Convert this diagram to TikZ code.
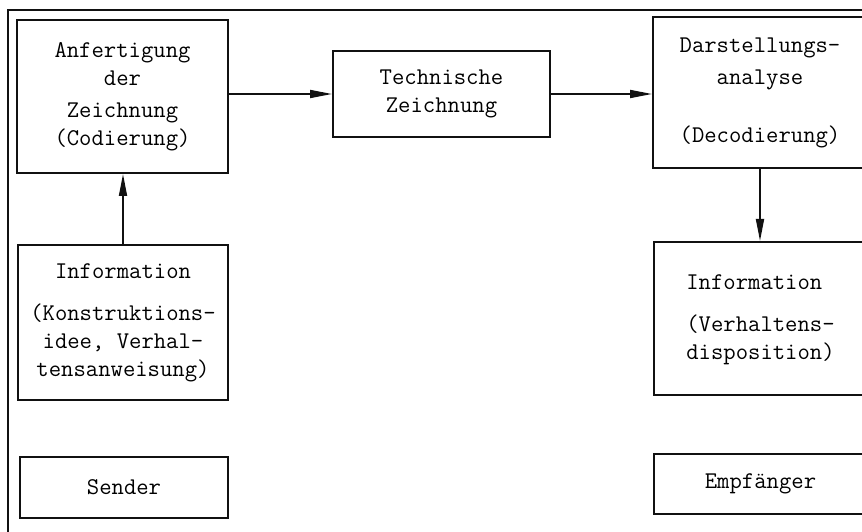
\documentclass[tikz,border=0pt]{standalone}
\usepackage{fontspec}
\usetikzlibrary{positioning,arrows.meta,calc}
\definecolor{ink}{HTML}{111111}

\tikzset{
  box/.style={draw=ink, line width=2pt, align=center, inner sep=0pt,
    font=\ttfamily\fontsize{24}{28}\selectfont},
  wide/.style={font=\ttfamily\fontsize{24}{28}\selectfont\addfontfeature{LetterSpace=9}},
  arr/.style={draw=ink, line width=1.8pt, -{Triangle[length=22pt,width=8pt]}}
}

\begin{document}
\begin{tikzpicture}[x=1pt,y=1pt]
\clip (0,0) rectangle (862,531);
% outer frame, only top and left show
\draw[ink, line width=2pt] (8,-10) -- (8,521) -- (880,521);

% sender side
\node[box, minimum width=211pt, minimum height=153pt] (anf) at (122.5,434.5)
  {Anfertigung\\der\\[4pt]Zeichnung\\(Codierung)};
\node[box, minimum width=210pt, minimum height=155pt] (infoS) at (123,208.5)
  {Information\\[14pt](Konstruktions-\\idee, Verhal-\\tensanweisung)};
\node[box, wide, minimum width=208pt, minimum height=61pt] (sender) at (124,43.5) {Sender};

% middle
\node[box, minimum width=217pt, minimum height=86pt] (tech) at (441.5,437)
  {Technische\\Zeichnung};

% receiver side
\node[box, minimum width=214pt, minimum height=151pt] (darst) at (760,438.5)
  {Darstellungs-\\[4pt]analyse\\[30pt](Decodierung)};
\node[box, minimum width=213pt, minimum height=153pt] (infoE) at (760.5,212.5)
  {\begin{tabular}{@{}l@{}}Information\\[14pt](Verhaltens-\\disposition)\end{tabular}};
\node[box, wide, minimum width=213pt, minimum height=60pt] (empf) at (760.5,47) {Empfänger};

% connectors
\draw[arr] (anf.east |- tech.west) -- (tech.west);
\draw[arr] (tech.east) -- (darst.west |- tech.east);
\draw[arr] (infoS.north) -- (infoS.north |- anf.south);
\draw[arr] (darst.south) -- (darst.south |- infoE.north);
\end{tikzpicture}
\end{document}
